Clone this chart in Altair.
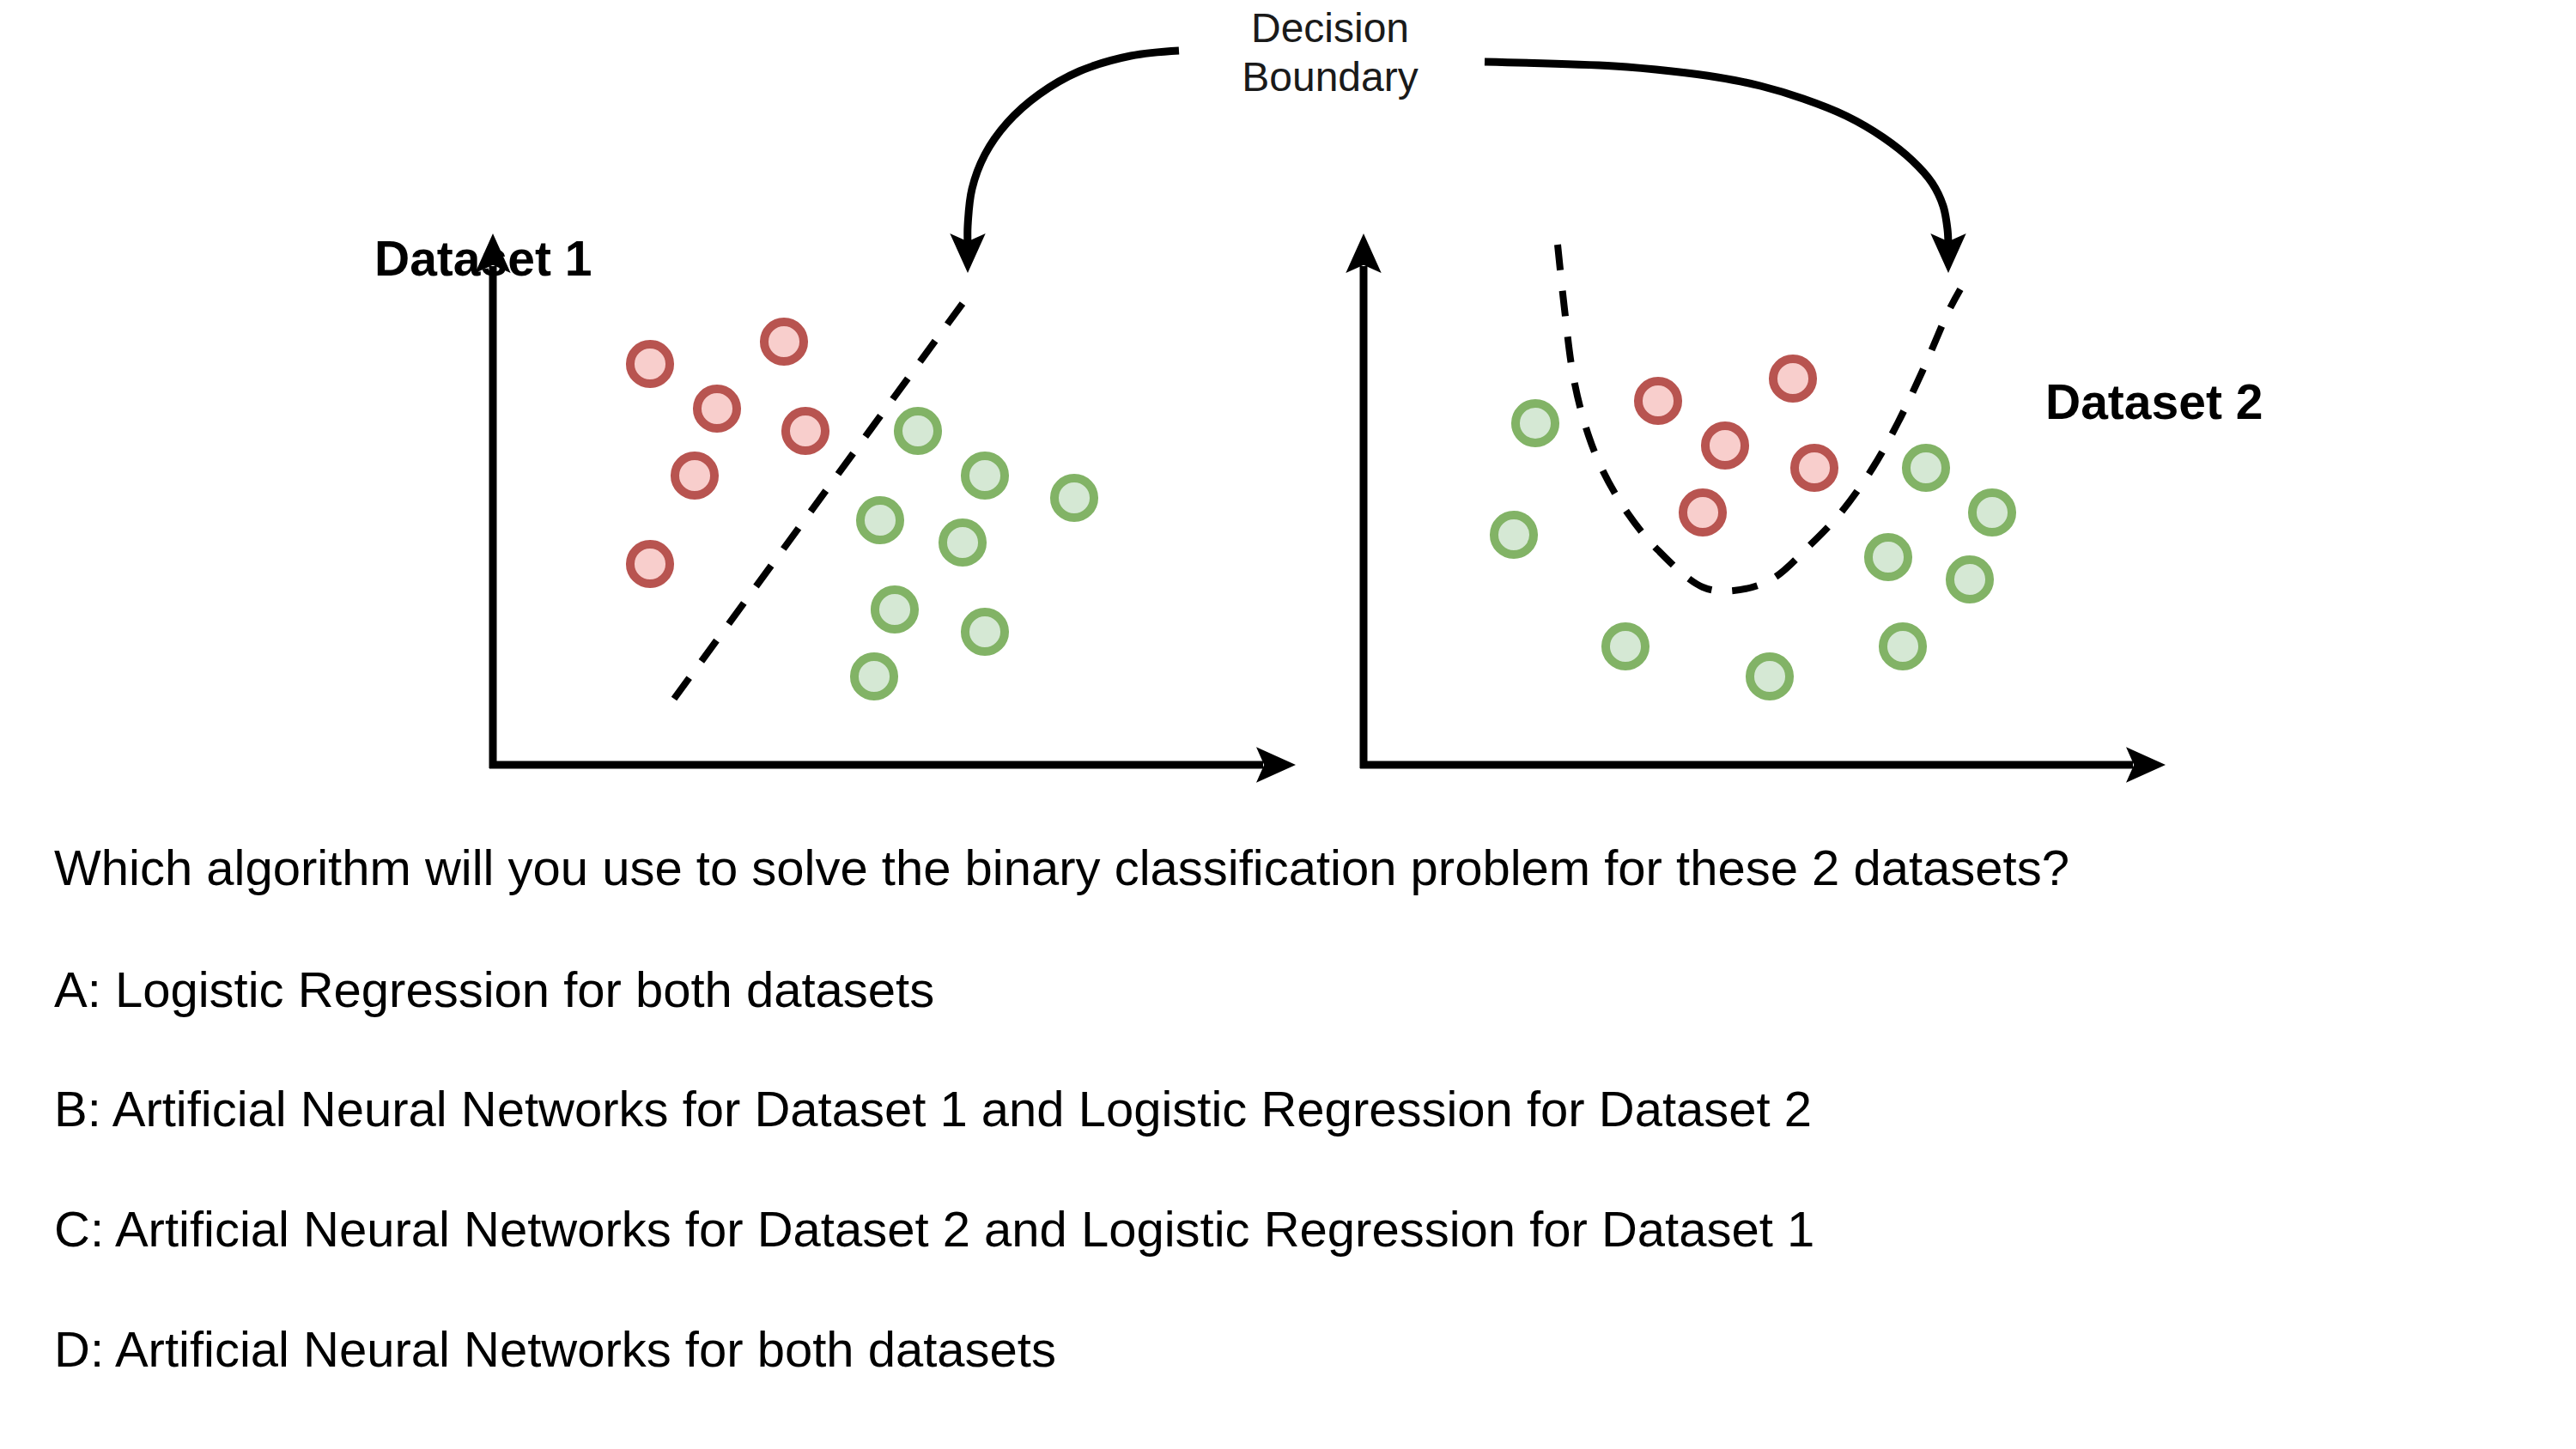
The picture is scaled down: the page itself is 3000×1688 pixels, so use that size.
import altair as alt
import pandas as pd

W, H = 3000, 1688
FONT = "Liberation Sans"

# ---- scatter points (canvas units, y measured from top) ----
d1_red_x = [757, 913, 835, 938, 809, 757]
d1_red_y = [424, 398, 476, 502, 554, 657]
d1_green_x = [1069, 1147, 1251, 1025, 1121, 1042, 1147, 1018]
d1_green_y = [502, 554, 580, 606, 632, 710, 736, 788]
d2_red_x = [1931, 2088, 2009, 2113, 1983]
d2_red_y = [467, 441, 519, 545, 597]
d2_green_x = [1788, 1763, 2243, 2320, 2199, 2294, 1893, 2061, 2216]
d2_green_y = [493, 623, 545, 597, 649, 675, 753, 788, 753]

# ---- decision boundaries ----
b1_x = [785, 1133]
b1_y = [814, 337]
b2_x = [1814, 1822, 1832, 1846, 1865, 1895, 1931, 1983, 2019, 2063, 2107, 2144, 2181, 2210, 2239, 2269, 2283]
b2_y = [285, 360, 437, 495, 545, 597, 641, 684, 688, 675, 636, 597, 545, 493, 432, 363, 337]

# ---- curved callout arrows ----
a1_x = [1373, 1317, 1257, 1210, 1173, 1147, 1132, 1127, 1127]
a1_y = [59, 65, 83, 110, 143, 180, 220, 263, 285]
a2_x = [1729, 1880, 1947, 2000, 2050, 2100, 2150, 2193, 2227, 2250, 2263, 2268, 2269]
a2_y = [72, 77, 83, 90, 100, 115, 135, 160, 187, 213, 240, 267, 285]

# ---- axes (origin, top tip, right tip) ----
ax_x0 = [574, 1588]
ax_y0 = [891, 891]
ax_ytip = [272, 272]
ax_xtip = [1509, 2522]

# ---- texts ----
bold_labels = ["Dataset 1", "Dataset 2"]
bold_x = [436, 2382]
bold_y = [304, 471]
callout_lines = ["Decision", "Boundary"]
callout_x = [1549, 1549]
callout_y = [35, 92]
question_lines = [
    "Which algorithm will you use to solve the binary classification problem for these 2 datasets?",
    "A: Logistic Regression for both datasets",
    "B: Artificial Neural Networks for Dataset 1 and Logistic Regression for Dataset 2",
    "C: Artificial Neural Networks for Dataset 2 and Logistic Regression for Dataset 1",
    "D: Artificial Neural Networks for both datasets",
]
question_x = [63] * 5
question_y = [1014, 1156, 1295, 1435, 1575]

# ---------------- build tables ----------------
pts = pd.DataFrame(
    [{"x": x, "y": y, "cls": "red"} for x, y in zip(d1_red_x + d2_red_x, d1_red_y + d2_red_y)]
    + [{"x": x, "y": y, "cls": "green"} for x, y in zip(d1_green_x + d2_green_x, d1_green_y + d2_green_y)]
)

def path_df(xs, ys, name):
    return pd.DataFrame({"x": xs, "y": ys, "g": name, "o": list(range(len(xs)))})

bounds = pd.concat([path_df(b1_x, b1_y, "b1"), path_df(b2_x, b2_y, "b2")])
arrows = pd.concat([path_df(a1_x, a1_y, "a1"), path_df(a2_x, a2_y, "a2")])

HEAD = 46
axis_lines = []
heads = []
for x0, y0, yt, xt in zip(ax_x0, ax_y0, ax_ytip, ax_xtip):
    axis_lines.append({"x": x0, "y": y0 + 4, "x2": x0, "y2": yt + HEAD - 8})
    axis_lines.append({"x": x0 - 4, "y": y0, "x2": xt - HEAD + 8, "y2": y0})
    heads.append({"x": x0, "y": yt, "ang": 0})
    heads.append({"x": xt, "y": y0, "ang": 90})
heads.append({"x": a1_x[-1], "y": 318, "ang": 180})
heads.append({"x": a2_x[-1], "y": 318, "ang": 180})
axis_df = pd.DataFrame(axis_lines)
heads_df = pd.DataFrame(heads)

bold_df = pd.DataFrame({"x": bold_x, "y": bold_y, "t": bold_labels})
callout_df = pd.DataFrame({"x": callout_x, "y": callout_y, "t": callout_lines})
q_df = pd.DataFrame({"x": question_x, "y": question_y, "t": question_lines})

xs = alt.Scale(domain=[0, W], nice=False, zero=False)
ys = alt.Scale(domain=[0, H], nice=False, zero=False, reverse=True)
X = lambda f="x": alt.X(f"{f}:Q", scale=xs, axis=None)
Y = lambda f="y": alt.Y(f"{f}:Q", scale=ys, axis=None)

bold_txt = alt.Chart(bold_df).mark_text(
    font=FONT, fontSize=57, fontWeight="bold", align="left", baseline="middle", color="#000000"
).encode(x=X(), y=Y(), text="t:N")

callout_txt = alt.Chart(callout_df).mark_text(
    font=FONT, fontSize=48, align="center", baseline="middle", color="#1a1a1a"
).encode(x=X(), y=Y(), text="t:N")

q_txt = alt.Chart(q_df).mark_text(
    font=FONT, fontSize=58, align="left", baseline="middle", color="#000000"
).encode(x=X(), y=Y(), text="t:N")

axes = alt.Chart(axis_df).mark_rule(color="#000000", strokeWidth=9, strokeCap="butt").encode(
    x=X(), y=Y(), x2="x2:Q", y2="y2:Q"
)

head_shape = "M0,0L0.9,2L0,1.6L-0.9,2Z"
head_marks = alt.Chart(heads_df).mark_point(
    shape=head_shape, filled=True, color="#000000", opacity=1, size=HEAD * HEAD, strokeWidth=0
).encode(x=X(), y=Y(), angle=alt.Angle("ang:Q", scale=None))

bound_lines = alt.Chart(bounds).mark_line(
    color="#000000", strokeWidth=8, strokeDash=[30, 24], interpolate="catmull-rom"
).encode(x=X(), y=Y(), detail="g:N", order="o:Q")

arrow_lines = alt.Chart(arrows).mark_line(
    color="#000000", strokeWidth=9, interpolate="catmull-rom"
).encode(x=X(), y=Y(), detail="g:N", order="o:Q")

circles = alt.Chart(pts).mark_point(
    shape="circle", filled=True, size=2124, strokeWidth=10, opacity=1, fillOpacity=1, strokeOpacity=1
).encode(
    x=X(), y=Y(),
    fill=alt.Fill("cls:N", scale=alt.Scale(domain=["red", "green"], range=["#f8cecc", "#d5e8d4"]), legend=None),
    stroke=alt.Stroke("cls:N", scale=alt.Scale(domain=["red", "green"], range=["#b85450", "#82b366"]), legend=None),
)

chart = alt.layer(
    bold_txt, callout_txt, q_txt, bound_lines, arrow_lines, circles, axes, head_marks
).properties(
    width=W, height=H, padding=0, autosize=alt.AutoSizeParams(type="none"), background="#ffffff"
).configure_view(stroke=None)

chart.save("out.html", embed_options={"renderer": "svg", "actions": False})
